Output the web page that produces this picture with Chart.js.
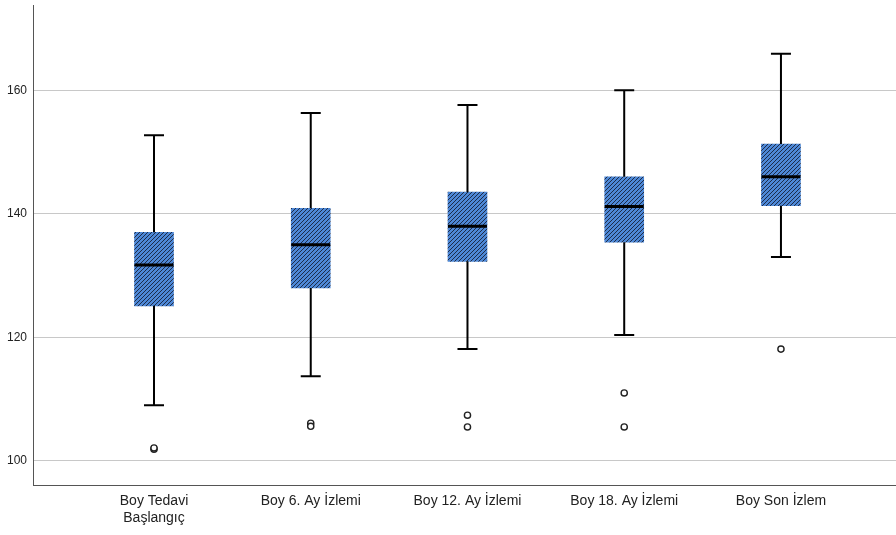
<!DOCTYPE html>
<html>
<head>
<meta charset="utf-8">
<script src="https://cdn.jsdelivr.net/npm/chart.js@4"></script>
<style>
  html, body { margin: 0; background: #fff; }
  #wrap { width: 896px; height: 535px; }
</style>
</head>
<body>
<div id="wrap"><canvas id="boxChart"></canvas></div>
<script>
// Box plot data (height, cm)
const categories = [['Boy Tedavi', 'Başlangıç'], 'Boy 6. Ay İzlemi', 'Boy 12. Ay İzlemi', 'Boy 18. Ay İzlemi', 'Boy Son İzlem'];
const whiskerLow = [109.0, 113.7, 118.1, 120.4, 133.0];
const q1Values = [125.1, 128.0, 132.3, 135.4, 141.3];
const medians = [131.7, 135.0, 138.0, 141.2, 146.0];
const q3Values = [137.0, 140.9, 143.5, 146.0, 151.3];
const whiskerHigh = [152.7, 156.3, 157.6, 160.0, 165.9];
const outliers = [[101.9, 102.1], [106.1, 105.6], [107.4, 105.5], [111.0, 105.5], [118.1]];
const yTicks = [100, 120, 140, 160];

function hatchPattern() {
    const s = 4;
    const c = document.createElement('canvas');
    c.width = s; c.height = s;
    const g = c.getContext('2d');
    g.fillStyle = '#4e88d6';
    g.fillRect(0, 0, s, s);
    g.strokeStyle = '#1c2c4a';
    g.lineWidth = 1;
    g.beginPath();
    g.moveTo(-1, s + 1); g.lineTo(s + 1, -1);
    g.moveTo(-1, 1); g.lineTo(1, -1);
    g.moveTo(s - 1, s + 1); g.lineTo(s + 1, s - 1);
    g.stroke();
    return g.createPattern(c, 'repeat');
}

const boxData = categories.map(function(_, i) { return { x: i, y: [q1Values[i], q3Values[i]] }; });
const outlierData = [];
outliers.forEach(function(list, i) {
    list.forEach(function(v) { outlierData.push({ x: i, y: v }); });
});

// whiskers, caps and medians drawn through the chart scales
const whiskerPlugin = {
    id: 'whiskers',
    afterDatasetsDraw(chart) {
        const ctx = chart.ctx;
        const yScale = chart.scales.y;
        const meta = chart.getDatasetMeta(0);
        ctx.save();
        ctx.strokeStyle = '#000';
        meta.data.forEach(function(bar, i) {
            const x = bar.x;
            const half = bar.width / 2;
            const yLow = yScale.getPixelForValue(whiskerLow[i]);
            const yHigh = yScale.getPixelForValue(whiskerHigh[i]);
            const yQ1 = yScale.getPixelForValue(q1Values[i]);
            const yQ3 = yScale.getPixelForValue(q3Values[i]);
            const yMed = yScale.getPixelForValue(medians[i]);
            ctx.lineWidth = 2;
            ctx.beginPath();
            ctx.moveTo(x, yQ3); ctx.lineTo(x, yHigh);
            ctx.moveTo(x, yQ1); ctx.lineTo(x, yLow);
            ctx.moveTo(x - 10, yHigh); ctx.lineTo(x + 10, yHigh);
            ctx.moveTo(x - 10, yLow); ctx.lineTo(x + 10, yLow);
            ctx.stroke();
            ctx.lineWidth = 3;
            ctx.beginPath();
            ctx.moveTo(x - half, yMed); ctx.lineTo(x + half, yMed);
            ctx.stroke();
        });
        ctx.restore();
    }
};

new Chart(document.getElementById('boxChart').getContext('2d'), {
    type: 'bar',
    data: {
        datasets: [
            {
                label: 'Box',
                data: boxData,
                backgroundColor: hatchPattern(),
                borderWidth: 0,
                barThickness: 39,
                order: 2
            },
            {
                type: 'scatter',
                label: 'Outliers',
                data: outlierData,
                pointStyle: 'circle',
                pointRadius: 3.1,
                pointBackgroundColor: '#fff',
                pointBorderColor: '#222',
                pointBorderWidth: 1.4,
                order: 1
            }
        ]
    },
    options: {
        responsive: true,
        maintainAspectRatio: false,
        animation: false,
        layout: { autoPadding: false, padding: { top: 5, right: 0, left: 0, bottom: 0 } },
        plugins: {
            legend: { display: false },
            tooltip: { enabled: false }
        },
        scales: {
            x: {
                type: 'linear',
                offset: false,
                min: -0.772,
                max: 4.734,
                afterBuildTicks: function(scale) {
                    scale.ticks = categories.map(function(_, i) { return { value: i }; });
                },
                afterFit: function(scale) {
                    scale.height = 50;
                    scale.paddingLeft = 0;
                    scale.paddingRight = 0;
                },
                ticks: {
                    autoSkip: false,
                    maxRotation: 0,
                    padding: 8,
                    color: '#222',
                    font: { family: 'Liberation Sans, Arial, sans-serif', size: 14 },
                    callback: function(value) { return categories[value]; }
                },
                grid: { display: false, drawTicks: false },
                border: { display: true, color: '#555', width: 1 }
            },
            y: {
                min: 96.1,
                max: 173.8,
                afterBuildTicks: function(scale) {
                    scale.ticks = yTicks.map(function(v) { return { value: v }; });
                },
                afterFit: function(scale) {
                    scale.width = 33;
                    scale.paddingTop = 0;
                    scale.paddingBottom = 0;
                },
                ticks: {
                    padding: 6,
                    color: '#222',
                    font: { family: 'Liberation Sans, Arial, sans-serif', size: 12 }
                },
                grid: { color: '#c8c8c8', lineWidth: 1, drawTicks: false },
                border: { display: true, color: '#555', width: 1 }
            }
        }
    },
    plugins: [whiskerPlugin]
});
</script>
</body>
</html>
